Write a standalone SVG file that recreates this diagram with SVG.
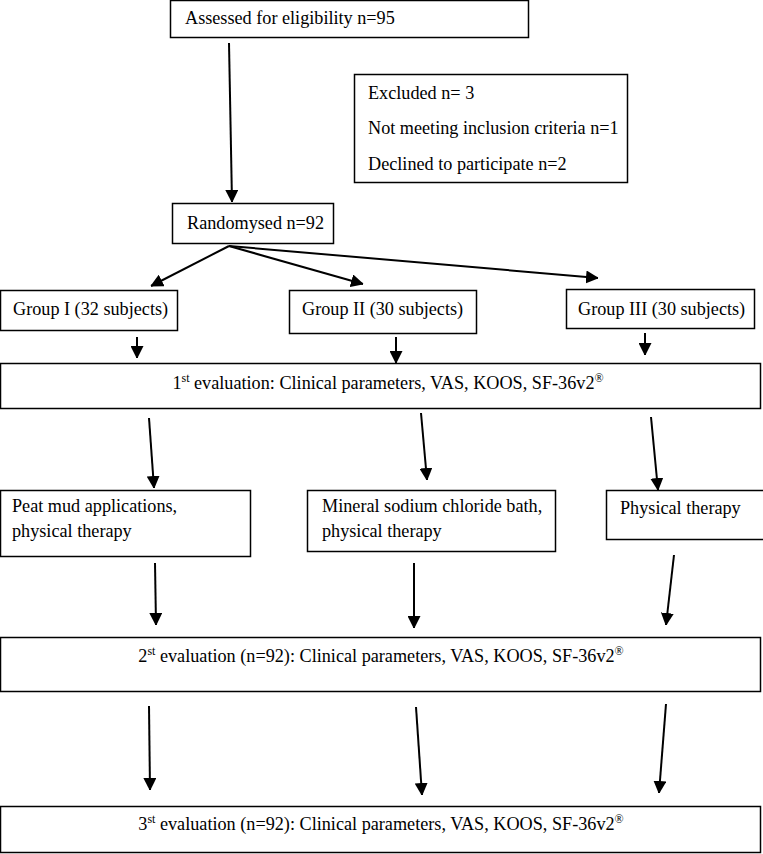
<svg xmlns="http://www.w3.org/2000/svg" width="763" height="854" viewBox="0 0 763 854">
<style>
.box{fill:#fff;stroke:#000;stroke-width:1.5}
.t{font-family:"Liberation Serif","Times New Roman",serif;font-size:18.2px;fill:#000}
.c{text-anchor:middle}
.sup{font-size:12px}
.ar{stroke:#000;stroke-width:2;fill:none;marker-end:url(#ah)}
</style>
<defs>
<marker id="ah" markerUnits="userSpaceOnUse" markerWidth="12" markerHeight="13" refX="12" refY="6.5" orient="auto">
<path d="M0,0 L13,6.5 L0,13 z" fill="#000"/>
</marker>
</defs>
<rect width="763" height="854" fill="#fff"/>
<g id="connectors">
<line class="ar" x1="229" y1="43" x2="232" y2="202"/>
<line class="ar" x1="229" y1="246" x2="151" y2="286"/>
<line class="ar" x1="229" y1="246" x2="363" y2="284"/>
<line class="ar" x1="229" y1="246" x2="598" y2="278"/>
<line class="ar" x1="137" y1="337" x2="137" y2="358"/>
<line class="ar" x1="396" y1="337" x2="396" y2="363"/>
<line class="ar" x1="645" y1="333" x2="645" y2="355"/>
<line class="ar" x1="149" y1="418" x2="154" y2="488"/>
<line class="ar" x1="421" y1="413" x2="427" y2="480"/>
<line class="ar" x1="651" y1="417" x2="658" y2="490"/>
<line class="ar" x1="155" y1="563" x2="156" y2="625"/>
<line class="ar" x1="414" y1="563" x2="414" y2="628"/>
<line class="ar" x1="674" y1="555" x2="666" y2="625"/>
<line class="ar" x1="149" y1="706" x2="150" y2="790"/>
<line class="ar" x1="416" y1="707" x2="422" y2="795"/>
<line class="ar" x1="666" y1="704" x2="659" y2="793"/>
</g>
<g id="assessed">
<rect class="box" x="170.5" y="0.5" width="358" height="37"/>
<text class="t" x="185" y="24">Assessed for eligibility n=95</text>
</g>
<g id="excluded">
<rect class="box" x="354.5" y="74.5" width="273" height="108"/>
<text class="t" x="368" y="99">Excluded n= 3</text>
<text class="t" x="368" y="134">Not meeting inclusion criteria n=1</text>
<text class="t" x="368" y="170">Declined to participate n=2</text>
</g>
<g id="randomysed">
<rect class="box" x="172.5" y="203.5" width="161" height="40"/>
<text class="t" x="187" y="229">Randomysed n=92</text>
</g>
<g id="group1">
<rect class="box" x="0.5" y="290.5" width="177" height="40"/>
<text class="t" x="13" y="315">Group I (32 subjects)</text>
</g>
<g id="group2">
<rect class="box" x="289.5" y="290.5" width="187" height="43"/>
<text class="t" x="302" y="315">Group II (30 subjects)</text>
</g>
<g id="group3">
<rect class="box" x="566.5" y="289.5" width="188" height="39"/>
<text class="t" x="578" y="315">Group III (30 subjects)</text>
</g>
<g id="eval1">
<rect class="box" x="0.5" y="363.5" width="760" height="45"/>
<text class="t c" x="388" y="389">1<tspan class="sup" dy="-7">st</tspan><tspan dy="7"> evaluation: Clinical parameters, VAS, KOOS, SF-36v2</tspan><tspan class="sup" dy="-7">®</tspan></text>
</g>
<g id="peat">
<rect class="box" x="0.5" y="490.5" width="250" height="66"/>
<text class="t" x="12" y="512">Peat mud applications,</text>
<text class="t" x="12" y="537">physical therapy</text>
</g>
<g id="mineral">
<rect class="box" x="307.5" y="490.5" width="248" height="61"/>
<text class="t" x="322" y="512">Mineral sodium chloride bath,</text>
<text class="t" x="322" y="537">physical therapy</text>
</g>
<g id="physical">
<rect class="box" x="606.5" y="490.5" width="160" height="49"/>
<text class="t" x="620" y="514">Physical therapy</text>
</g>
<g id="eval2">
<rect class="box" x="0.5" y="637.5" width="760" height="54"/>
<text class="t c" x="381" y="662">2<tspan class="sup" dy="-7">st</tspan><tspan dy="7"> evaluation (n=92): Clinical parameters, VAS, KOOS, SF-36v2</tspan><tspan class="sup" dy="-7">®</tspan></text>
</g>
<g id="eval3">
<rect class="box" x="0.5" y="806.5" width="760" height="46"/>
<text class="t c" x="381" y="830">3<tspan class="sup" dy="-7">st</tspan><tspan dy="7"> evaluation (n=92): Clinical parameters, VAS, KOOS, SF-36v2</tspan><tspan class="sup" dy="-7">®</tspan></text>
</g>
</svg>
